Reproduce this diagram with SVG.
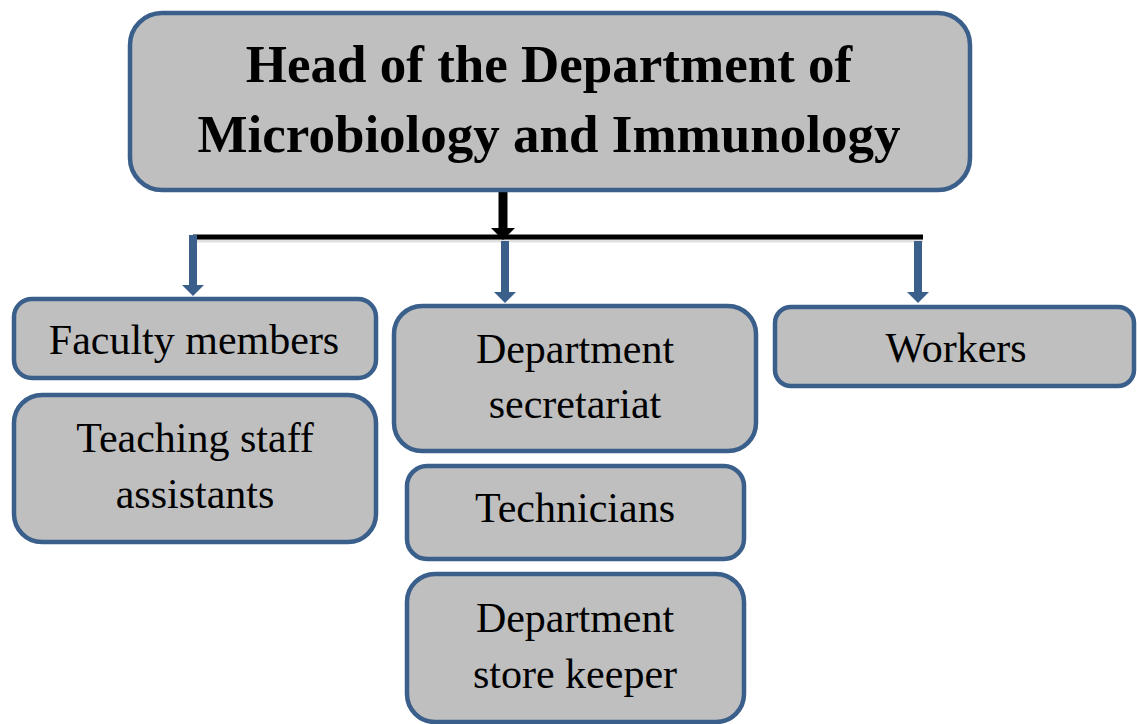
<svg xmlns="http://www.w3.org/2000/svg" width="1137" height="724" viewBox="0 0 1137 724">
<style>
.box{fill:#BFBFBF;stroke:#3A5F8B;stroke-width:4.5}
.t{font-size:42px;fill:#000;text-anchor:middle}
.h{font-size:53px;font-weight:bold;fill:#000;text-anchor:middle}
.blue{stroke:#3A5F8B;stroke-width:8;fill:none}
.bluehead{fill:#3A5F8B}
</style>
<rect width="1137" height="724" fill="#fff"/>
<g id="connectors">
  <line x1="196" y1="240.5" x2="923" y2="240.5" stroke="#000" stroke-opacity="0.12" stroke-width="4"/>
  <line x1="503" y1="188" x2="503" y2="229" stroke="#000" stroke-width="9"/>
  <polygon points="491,228 515,228 503,240" fill="#000"/>
  <line x1="193" y1="237" x2="923" y2="237" stroke="#000" stroke-width="5"/>
  <line class="blue" x1="193" y1="235" x2="193" y2="286"/>
  <polygon class="bluehead" points="182,285 204,285 193,296"/>
  <line class="blue" x1="505" y1="241" x2="505" y2="293"/>
  <polygon class="bluehead" points="494,292 516,292 505,303"/>
  <line class="blue" x1="918" y1="241" x2="918" y2="293"/>
  <polygon class="bluehead" points="907,292 929,292 918,303"/>
</g>
<g id="head">
  <rect class="box" x="130" y="13" width="840" height="177" rx="32"/>
  <text class="h" font-family="Liberation Serif, serif" x="549" y="82">Head of the Department of</text>
  <text class="h" font-family="Liberation Serif, serif" x="549" y="152">Microbiology and Immunology</text>
</g>
<g id="faculty">
  <rect class="box" x="14" y="299" width="362" height="79" rx="18"/>
  <text class="t" font-family="Liberation Serif, serif" x="194" y="354">Faculty members</text>
</g>
<g id="teaching">
  <rect class="box" x="14" y="395" width="362" height="147" rx="28"/>
  <text class="t" font-family="Liberation Serif, serif" x="195" y="452">Teaching staff</text>
  <text class="t" font-family="Liberation Serif, serif" x="195" y="508">assistants</text>
</g>
<g id="secretariat">
  <rect class="box" x="394" y="306" width="362" height="145" rx="28"/>
  <text class="t" font-family="Liberation Serif, serif" x="575" y="363">Department</text>
  <text class="t" font-family="Liberation Serif, serif" x="575" y="418">secretariat</text>
</g>
<g id="technicians">
  <rect class="box" x="407" y="466" width="337" height="93" rx="20"/>
  <text class="t" font-family="Liberation Serif, serif" x="575" y="522">Technicians</text>
</g>
<g id="storekeeper">
  <rect class="box" x="407" y="574" width="337" height="148" rx="28"/>
  <text class="t" font-family="Liberation Serif, serif" x="575" y="632">Department</text>
  <text class="t" font-family="Liberation Serif, serif" x="575" y="688">store keeper</text>
</g>
<g id="workers">
  <rect class="box" x="775" y="307" width="359" height="79" rx="16"/>
  <text class="t" font-family="Liberation Serif, serif" x="956" y="362">Workers</text>
</g>
</svg>
